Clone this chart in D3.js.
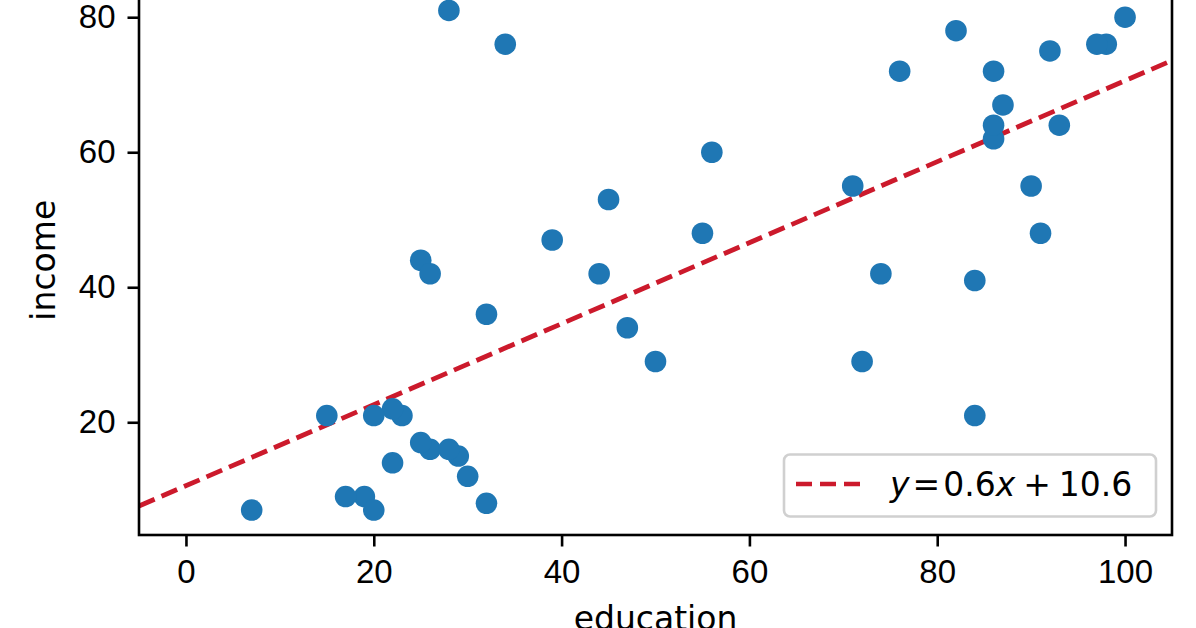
<!DOCTYPE html>
<html>
<head>
<meta charset="utf-8">
<script src="https://cdn.jsdelivr.net/npm/d3@7"></script>
<style>
  html, body { margin: 0; padding: 0; background: #fff; }
  svg { display: block; font-family: "DejaVu Sans", sans-serif; }
</style>
</head>
<body>
<div class="visHolder"></div>
<script>
// education / income, one entry per occupation
let education = [86, 76, 92, 90, 86, 84, 93, 100, 87, 86, 74, 98, 97, 84, 91, 34, 45, 56, 44, 82,
  72, 55, 71, 50, 23, 39, 28, 32, 22, 25, 29, 7, 26, 19, 15, 20, 26, 28, 17, 22, 30, 25, 20, 47, 32];
let income = [62, 72, 75, 55, 64, 21, 64, 80, 67, 72, 42, 76, 76, 41, 48, 76, 53, 60, 42, 78,
  29, 48, 55, 29, 21, 47, 81, 36, 22, 44, 15, 7, 42, 9, 21, 21, 16, 16, 9, 14, 12, 17, 7, 34, 8];
let xTicks = [0, 20, 40, 60, 80, 100];
let yTicks = [20, 40, 60, 80];
let fitSlope = 0.6,
  fitIntercept = 10.6;

let width = 1196,
  height = 628,
  fontSize = 33,
  lineColor = '#cc1a2c';

// plot box (top edge sits above the picture)
let boxLeft = 139,
  boxRight = 1172,
  boxTop = -14.5,
  boxBottom = 535;

let svg = d3
  .select('.visHolder')
  .append('svg')
  .attr('width', width)
  .attr('height', height);

let xScale = d3.scaleLinear().domain([-5, 105]).range([boxLeft, boxRight]);
let yScale = d3.scaleLinear().domain([3.3, 84.7]).range([boxBottom, boxTop]);

let points = education.map(function (e, i) {
  return { x: e, y: income[i] };
});

// regression line across the whole box
let lineData = xScale.domain().map(function (x) {
  return { x: x, y: fitSlope * x + fitIntercept };
});

svg
  .append('path')
  .datum(lineData)
  .attr('d', d3.line().x(d => xScale(d.x)).y(d => yScale(d.y)))
  .attr('fill', 'none')
  .attr('stroke', lineColor)
  .attr('stroke-width', 4.8)
  .attr('stroke-dasharray', '17 7.5');

svg
  .selectAll('circle')
  .data(points)
  .enter()
  .append('circle')
  .attr('cx', d => xScale(d.x))
  .attr('cy', d => yScale(d.y))
  .attr('r', 10.8)
  .style('fill', '#1f77b4');

// axes
let xAxis = d3.axisBottom(xScale).tickValues(xTicks).tickSize(11.5).tickPadding(13).tickFormat(d3.format('d'));
let yAxis = d3.axisLeft(yScale).tickValues(yTicks).tickSize(11.5).tickPadding(12).tickFormat(d3.format('d'));

let gx = svg.append('g').attr('transform', 'translate(0,' + boxBottom + ')').call(xAxis);
let gy = svg.append('g').attr('transform', 'translate(' + boxLeft + ',0)').call(yAxis);

[gx, gy].forEach(function (g) {
  g.select('.domain').remove();
  g.selectAll('.tick line').attr('stroke', '#000').attr('stroke-width', 2.6);
  g.selectAll('.tick text').attr('fill', '#000').style('font-size', fontSize + 'px');
});

// frame
svg
  .append('rect')
  .attr('x', boxLeft)
  .attr('y', boxTop)
  .attr('width', boxRight - boxLeft)
  .attr('height', boxBottom - boxTop)
  .attr('fill', 'none')
  .attr('stroke', '#000')
  .attr('stroke-width', 2.6);

svg
  .append('text')
  .attr('x', (boxLeft + boxRight) / 2)
  .attr('y', 630)
  .attr('text-anchor', 'middle')
  .style('font-size', fontSize + 'px')
  .text('education');

svg
  .append('text')
  .attr('transform', 'translate(55,' + (boxTop + boxBottom) / 2 + ') rotate(-90)')
  .attr('text-anchor', 'middle')
  .style('font-size', fontSize + 'px')
  .text('income');

// legend
let legend = svg.append('g').attr('id', 'legend');

legend
  .append('rect')
  .attr('x', 784)
  .attr('y', 454.5)
  .attr('width', 372)
  .attr('height', 62)
  .attr('rx', 6)
  .attr('fill', '#fff')
  .attr('fill-opacity', 0.8)
  .attr('stroke', '#d0d0d0')
  .attr('stroke-width', 2.6);

legend
  .append('line')
  .attr('x1', 796)
  .attr('x2', 864)
  .attr('y1', 484)
  .attr('y2', 484)
  .attr('stroke', lineColor)
  .attr('stroke-width', 4.5)
  .attr('stroke-dasharray', '16 8');

let label = legend
  .append('text')
  .attr('x', 890)
  .attr('y', 496)
  .style('font-size', fontSize + 'px');

label.append('tspan').style('font-style', 'italic').text('y');
label.append('tspan').attr('dx', 3).text('=');
label.append('tspan').attr('dx', 3).text('0.6');
label.append('tspan').style('font-style', 'italic').text('x');
label.append('tspan').attr('dx', 8).text('+');
label.append('tspan').attr('dx', 8).text('10.6');
</script>
</body>
</html>
